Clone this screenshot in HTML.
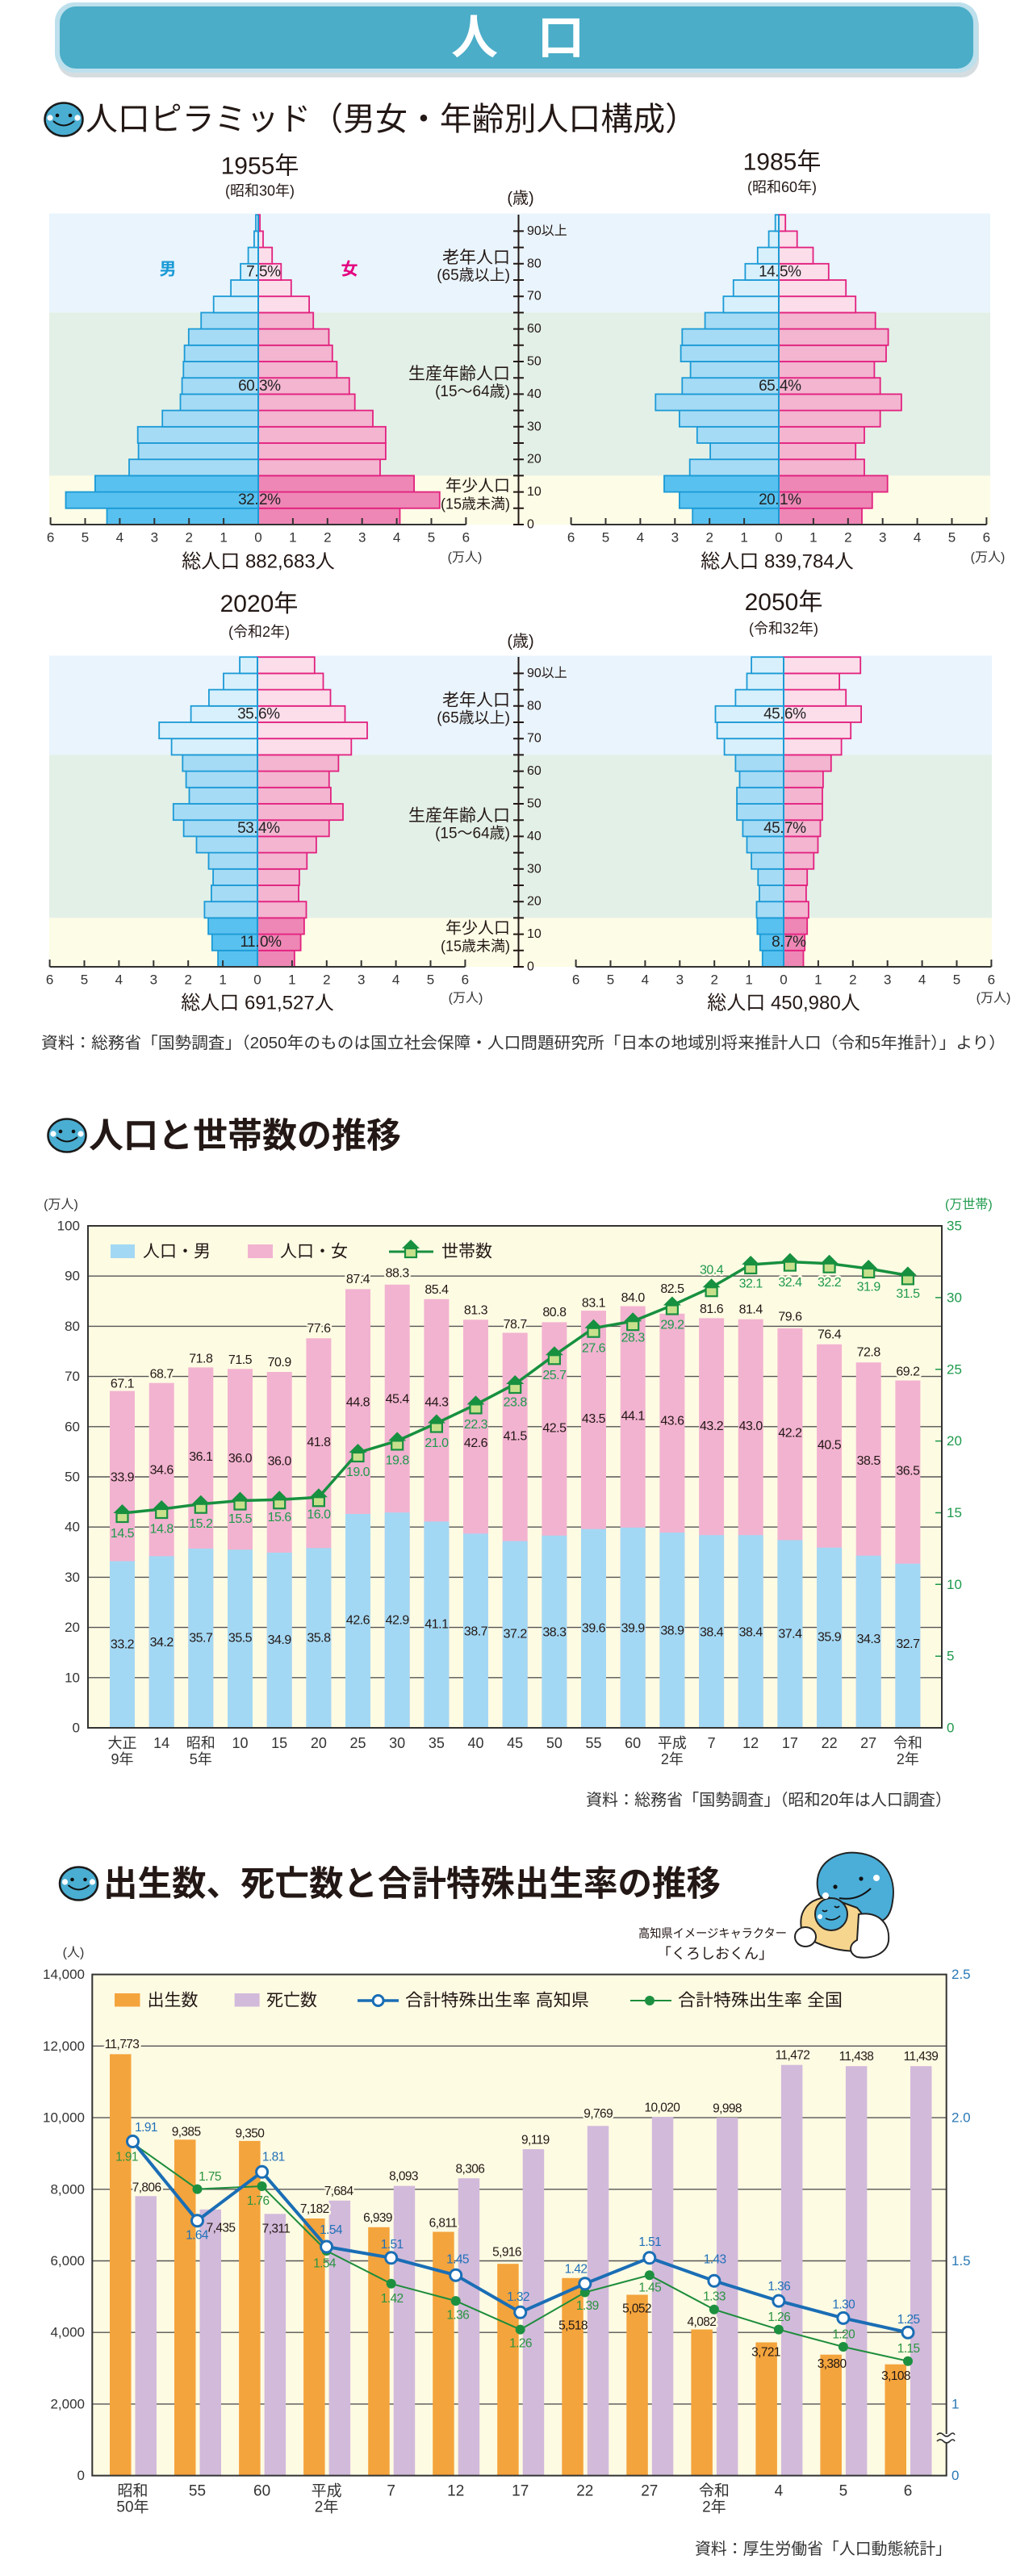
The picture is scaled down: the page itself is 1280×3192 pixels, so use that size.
<!DOCTYPE html>
<html lang="ja"><head><meta charset="utf-8"><title>人口</title>
<style>
html,body{margin:0;padding:0;background:#fff;}
svg{display:block;}
text{font-family:"Liberation Sans","Noto Sans CJK JP",sans-serif;dominant-baseline:central;fill:#231815;}
.mc{fill:#58c1ef;stroke:#1b9ad6;stroke-width:1.8}
.mw{fill:#a6dbf5;stroke:#1b9ad6;stroke-width:1.8}
.me{fill:#d8f0fb;stroke:#1b9ad6;stroke-width:1.8}
.fc{fill:#ee87b5;stroke:#e2217f;stroke-width:1.8}
.fw{fill:#f3b5d0;stroke:#e2217f;stroke-width:1.8}
.fe{fill:#fbdeea;stroke:#e2217f;stroke-width:1.8}
.ax{font-size:17px;fill:#333;text-anchor:middle}
.pc{font-size:19px;fill:#222;letter-spacing:-0.5px}
.yr{font-size:30px;text-anchor:middle;fill:#231815}
.ys{font-size:18px;text-anchor:middle;fill:#231815}
.tot{font-size:24px;text-anchor:middle}
.man{font-size:16px;text-anchor:middle;fill:#333}
.ag{font-size:16px;fill:#231815}
.gl{text-anchor:end;fill:#231815}
.yl{font-size:17px;fill:#333;text-anchor:end}
.n2{font-size:16px;letter-spacing:-0.5px;text-anchor:middle;fill:#231815}
.h2{font-size:16px;letter-spacing:-0.5px;text-anchor:middle;fill:#1e9a4c}
.halo{stroke:#fefbe3;stroke-width:5px;paint-order:stroke;stroke-linejoin:round}
.xl{font-size:18px;text-anchor:middle;fill:#333}
.n3{font-size:15.5px;letter-spacing:-0.6px;text-anchor:middle;fill:#231815}
.b3{font-size:15.5px;letter-spacing:-0.6px;text-anchor:middle;fill:#2070b8}
.g3{font-size:15.5px;letter-spacing:-0.6px;text-anchor:middle;fill:#2a9440}
.lg{font-size:21px;fill:#231815}
.src{font-size:20px;fill:#333}
</style></head>
<body>
<svg xmlns="http://www.w3.org/2000/svg" width="1280" height="3192" viewBox="0 0 1280 3192">
<defs>
<g id="hs"><path d="M-11 0 L0 -11 L11 0 Z" fill="#17903f"/><rect x="-7" y="0" width="14" height="11" fill="#c8e08c" stroke="#17903f" stroke-width="2.2"/></g>
<g id="face"><ellipse cx="0" cy="0" rx="23.5" ry="20.5" fill="#4aaed2" stroke="#1a1a1a" stroke-width="2.5"/><circle cx="-8" cy="-5" r="2.3" fill="#111"/><circle cx="8" cy="-5" r="2.3" fill="#111"/><path d="M-13 2 Q0 13 13 2" fill="none" stroke="#111" stroke-width="2"/><circle cx="-17" cy="-2" r="3.6" fill="#fff"/><circle cx="17" cy="-2" r="3.6" fill="#fff"/></g>
</defs>

<!-- Banner -->
<rect x="71" y="10" width="1142" height="86" rx="22" fill="#d6dde0"/>
<rect x="68" y="3" width="1144" height="87" rx="24" fill="#bde0ec"/>
<rect x="74" y="8" width="1132" height="77" rx="20" fill="#4badc8"/>
<text x="588" y="47" font-size="58" font-weight="bold" text-anchor="middle" style="fill:#fff">人</text>
<text x="695" y="47" font-size="58" font-weight="bold" text-anchor="middle" style="fill:#fff">口</text>

<!-- Section 1 title -->
<use href="#face" x="79" y="148"/>
<text x="106" y="148" font-size="40" textLength="758" lengthAdjust="spacingAndGlyphs">人口ピラミッド（男女・年齢別人口構成）</text>

<!-- Bands top pair -->
<rect x="61" y="264.5" width="1166" height="122.9" fill="#e9f4fc"/>
<rect x="61" y="387.4" width="1166" height="202" fill="#e3f0e7"/>
<rect x="61" y="589.4" width="1166" height="60.6" fill="#fdfce6"/>
<!-- Bands bottom pair -->
<rect x="61" y="812.5" width="1168" height="122.9" fill="#e9f4fc"/>
<rect x="61" y="935.4" width="1168" height="202" fill="#e3f0e7"/>
<rect x="61" y="1137.4" width="1168" height="60.6" fill="#fdfce6"/>

<!-- Pyramid 1955 -->
<g transform="translate(320,650)">
<rect class="mc" x="-187.5" y="-20.2" width="187.5" height="20.2"/>
<rect class="mc" x="-238.5" y="-40.4" width="238.5" height="20.2"/>
<rect class="mc" x="-202.1" y="-60.6" width="202.1" height="20.2"/>
<rect class="mw" x="-160" y="-80.8" width="160" height="20.2"/>
<rect class="mw" x="-148.4" y="-101" width="148.4" height="20.2"/>
<rect class="mw" x="-149.3" y="-121.2" width="149.3" height="20.2"/>
<rect class="mw" x="-118.8" y="-141.4" width="118.8" height="20.2"/>
<rect class="mw" x="-96.5" y="-161.6" width="96.5" height="20.2"/>
<rect class="mw" x="-94.4" y="-181.8" width="94.4" height="20.2"/>
<rect class="mw" x="-92.7" y="-202" width="92.7" height="20.2"/>
<rect class="mw" x="-91.4" y="-222.2" width="91.4" height="20.2"/>
<rect class="mw" x="-86.2" y="-242.4" width="86.2" height="20.2"/>
<rect class="mw" x="-70.8" y="-262.6" width="70.8" height="20.2"/>
<rect class="me" x="-55.3" y="-282.8" width="55.3" height="20.2"/>
<rect class="me" x="-33.9" y="-303" width="33.9" height="20.2"/>
<rect class="me" x="-21.9" y="-323.2" width="21.9" height="20.2"/>
<rect class="me" x="-12.4" y="-343.4" width="12.4" height="20.2"/>
<rect class="me" x="-5.1" y="-363.6" width="5.1" height="20.2"/>
<rect class="me" x="-3" y="-383.8" width="3" height="20.2"/>
<rect class="fc" x="0" y="-20.2" width="175.5" height="20.2"/>
<rect class="fc" x="0" y="-40.4" width="224.8" height="20.2"/>
<rect class="fc" x="0" y="-60.6" width="193.1" height="20.2"/>
<rect class="fw" x="0" y="-80.8" width="151" height="20.2"/>
<rect class="fw" x="0" y="-101" width="157.9" height="20.2"/>
<rect class="fw" x="0" y="-121.2" width="157.9" height="20.2"/>
<rect class="fw" x="0" y="-141.4" width="142" height="20.2"/>
<rect class="fw" x="0" y="-161.6" width="119.7" height="20.2"/>
<rect class="fw" x="0" y="-181.8" width="112.8" height="20.2"/>
<rect class="fw" x="0" y="-202" width="97.4" height="20.2"/>
<rect class="fw" x="0" y="-222.2" width="91.8" height="20.2"/>
<rect class="fw" x="0" y="-242.4" width="87.5" height="20.2"/>
<rect class="fw" x="0" y="-262.6" width="68.2" height="20.2"/>
<rect class="fe" x="0" y="-282.8" width="63.1" height="20.2"/>
<rect class="fe" x="0" y="-303" width="40.8" height="20.2"/>
<rect class="fe" x="0" y="-323.2" width="28.3" height="20.2"/>
<rect class="fe" x="0" y="-343.4" width="17.2" height="20.2"/>
<rect class="fe" x="0" y="-363.6" width="6" height="20.2"/>
<rect class="fe" x="0" y="-383.8" width="2.1" height="20.2"/>
<path d="M0 -384V0" stroke="#1b9ad6" stroke-width="2"/>
<path d="M-257.4 0H257.4M-257.4 0V-9M-214.5 0V-8M-171.6 0V-8M-128.7 0V-8M-85.8 0V-8M-42.9 0V-8M42.9 0V-8M85.8 0V-8M128.7 0V-8M171.6 0V-8M214.5 0V-8M257.4 0V-9" stroke="#333" stroke-width="2" fill="none"/>
<text class="ax" x="-257.4" y="16">6</text><text class="ax" x="-214.5" y="16">5</text><text class="ax" x="-171.6" y="16">4</text><text class="ax" x="-128.7" y="16">3</text><text class="ax" x="-85.8" y="16">2</text><text class="ax" x="-42.9" y="16">1</text><text class="ax" x="0" y="16">0</text><text class="ax" x="42.9" y="16">1</text><text class="ax" x="85.8" y="16">2</text><text class="ax" x="128.7" y="16">3</text><text class="ax" x="171.6" y="16">4</text><text class="ax" x="214.5" y="16">5</text><text class="ax" x="257.4" y="16">6</text>
<text class="pc" x="0" y="-30.3" text-anchor="end">32.</text><text class="pc" x="1" y="-30.3">2%</text>
<text class="pc" x="0" y="-171.7" text-anchor="end">60.</text><text class="pc" x="1" y="-171.7">3%</text>
<text class="pc" x="0" y="-313.1" text-anchor="end">7.</text><text class="pc" x="1" y="-313.1">5%</text>
<text class="yr" x="2" y="-444">1955年</text>
<text class="ys" x="2" y="-413.5">(昭和30年)</text>
<text class="tot" x="0" y="46">総人口 882,683人</text>
<text class="man" x="256" y="41">(万人)</text>
<text x="-112" y="-316" font-size="21" font-weight="bold" text-anchor="middle" style="fill:#1a9ad6">男</text>
<text x="113" y="-316" font-size="21" font-weight="bold" text-anchor="middle" style="fill:#e4007f">女</text>
</g>

<!-- Pyramid 1985 -->
<g transform="translate(965,650)">
<rect class="mc" x="-106.8" y="-20.2" width="106.8" height="20.2"/>
<rect class="mc" x="-123.1" y="-40.4" width="123.1" height="20.2"/>
<rect class="mc" x="-142" y="-60.6" width="142" height="20.2"/>
<rect class="mw" x="-110.3" y="-80.8" width="110.3" height="20.2"/>
<rect class="mw" x="-84.9" y="-101" width="84.9" height="20.2"/>
<rect class="mw" x="-101.2" y="-121.2" width="101.2" height="20.2"/>
<rect class="mw" x="-123.1" y="-141.4" width="123.1" height="20.2"/>
<rect class="mw" x="-152.7" y="-161.6" width="152.7" height="20.2"/>
<rect class="mw" x="-119.7" y="-181.8" width="119.7" height="20.2"/>
<rect class="mw" x="-109.4" y="-202" width="109.4" height="20.2"/>
<rect class="mw" x="-121.4" y="-222.2" width="121.4" height="20.2"/>
<rect class="mw" x="-119.7" y="-242.4" width="119.7" height="20.2"/>
<rect class="mw" x="-91.4" y="-262.6" width="91.4" height="20.2"/>
<rect class="me" x="-68.6" y="-282.8" width="68.6" height="20.2"/>
<rect class="me" x="-56.2" y="-303" width="56.2" height="20.2"/>
<rect class="me" x="-41.6" y="-323.2" width="41.6" height="20.2"/>
<rect class="me" x="-26.2" y="-343.4" width="26.2" height="20.2"/>
<rect class="me" x="-12.4" y="-363.6" width="12.4" height="20.2"/>
<rect class="me" x="-4.3" y="-383.8" width="4.3" height="20.2"/>
<rect class="fc" x="0" y="-20.2" width="103" height="20.2"/>
<rect class="fc" x="0" y="-40.4" width="115.8" height="20.2"/>
<rect class="fc" x="0" y="-60.6" width="134.7" height="20.2"/>
<rect class="fw" x="0" y="-80.8" width="106" height="20.2"/>
<rect class="fw" x="0" y="-101" width="95.2" height="20.2"/>
<rect class="fw" x="0" y="-121.2" width="106" height="20.2"/>
<rect class="fw" x="0" y="-141.4" width="125.7" height="20.2"/>
<rect class="fw" x="0" y="-161.6" width="151.9" height="20.2"/>
<rect class="fw" x="0" y="-181.8" width="125.7" height="20.2"/>
<rect class="fw" x="0" y="-202" width="118.4" height="20.2"/>
<rect class="fw" x="0" y="-222.2" width="133" height="20.2"/>
<rect class="fw" x="0" y="-242.4" width="135.6" height="20.2"/>
<rect class="fw" x="0" y="-262.6" width="119.7" height="20.2"/>
<rect class="fe" x="0" y="-282.8" width="95.2" height="20.2"/>
<rect class="fe" x="0" y="-303" width="83.2" height="20.2"/>
<rect class="fe" x="0" y="-323.2" width="61.8" height="20.2"/>
<rect class="fe" x="0" y="-343.4" width="42.5" height="20.2"/>
<rect class="fe" x="0" y="-363.6" width="22.7" height="20.2"/>
<rect class="fe" x="0" y="-383.8" width="8.2" height="20.2"/>
<path d="M0 -384V0" stroke="#1b9ad6" stroke-width="2"/>
<path d="M-257.4 0H257.4M-257.4 0V-9M-214.5 0V-8M-171.6 0V-8M-128.7 0V-8M-85.8 0V-8M-42.9 0V-8M42.9 0V-8M85.8 0V-8M128.7 0V-8M171.6 0V-8M214.5 0V-8M257.4 0V-9" stroke="#333" stroke-width="2" fill="none"/>
<text class="ax" x="-257.4" y="16">6</text><text class="ax" x="-214.5" y="16">5</text><text class="ax" x="-171.6" y="16">4</text><text class="ax" x="-128.7" y="16">3</text><text class="ax" x="-85.8" y="16">2</text><text class="ax" x="-42.9" y="16">1</text><text class="ax" x="0" y="16">0</text><text class="ax" x="42.9" y="16">1</text><text class="ax" x="85.8" y="16">2</text><text class="ax" x="128.7" y="16">3</text><text class="ax" x="171.6" y="16">4</text><text class="ax" x="214.5" y="16">5</text><text class="ax" x="257.4" y="16">6</text>
<text class="pc" x="0" y="-30.3" text-anchor="end">20.</text><text class="pc" x="1" y="-30.3">1%</text>
<text class="pc" x="0" y="-171.7" text-anchor="end">65.</text><text class="pc" x="1" y="-171.7">4%</text>
<text class="pc" x="0" y="-313.1" text-anchor="end">14.</text><text class="pc" x="1" y="-313.1">5%</text>
<text class="yr" x="4" y="-449">1985年</text>
<text class="ys" x="4" y="-418">(昭和60年)</text>
<text class="tot" x="-2" y="46">総人口 839,784人</text>
<text class="man" x="259" y="41">(万人)</text>
</g>

<!-- Age axis top -->
<text x="645" y="246" font-size="20" text-anchor="middle">(歳)</text>
<path d="M642.5 266V650M636 650H649M636 629.8H649M636 609.6H649M636 589.4H649M636 569.2H649M636 549H649M636 528.8H649M636 508.6H649M636 488.4H649M636 468.2H649M636 448H649M636 427.8H649M636 407.6H649M636 387.4H649M636 367.2H649M636 347H649M636 326.8H649M636 306.6H649M636 286.4H649" stroke="#231815" stroke-width="2" fill="none"/>
<text class="ag" x="653" y="650">0</text><text class="ag" x="653" y="609.6">10</text><text class="ag" x="653" y="569.2">20</text><text class="ag" x="653" y="528.8">30</text><text class="ag" x="653" y="488.4">40</text><text class="ag" x="653" y="448">50</text><text class="ag" x="653" y="407.6">60</text><text class="ag" x="653" y="367.2">70</text><text class="ag" x="653" y="326.8">80</text><text class="ag" x="653" y="286.4">90以上</text>
<text class="gl" x="632" y="319.4" font-size="21">老年人口</text>
<text class="gl" x="632" y="341.7" font-size="19">(65歳以上)</text>
<text class="gl" x="632" y="463.3" font-size="21">生産年齢人口</text>
<text class="gl" x="632" y="485.7" font-size="19">(15〜64歳)</text>
<text class="gl" x="632" y="602.7" font-size="20">年少人口</text>
<text class="gl" x="632" y="624.5" font-size="18">(15歳未満)</text>

<!-- Pyramid 2020 -->
<g transform="translate(319,1198)">
<rect class="mc" x="-48.9" y="-20.2" width="48.9" height="20.2"/>
<rect class="mc" x="-56.2" y="-40.4" width="56.2" height="20.2"/>
<rect class="mc" x="-60.9" y="-60.6" width="60.9" height="20.2"/>
<rect class="mw" x="-65.6" y="-80.8" width="65.6" height="20.2"/>
<rect class="mw" x="-57.1" y="-101" width="57.1" height="20.2"/>
<rect class="mw" x="-54.9" y="-121.2" width="54.9" height="20.2"/>
<rect class="mw" x="-60.5" y="-141.4" width="60.5" height="20.2"/>
<rect class="mw" x="-75.5" y="-161.6" width="75.5" height="20.2"/>
<rect class="mw" x="-91.4" y="-181.8" width="91.4" height="20.2"/>
<rect class="mw" x="-104.2" y="-202" width="104.2" height="20.2"/>
<rect class="mw" x="-84.5" y="-222.2" width="84.5" height="20.2"/>
<rect class="mw" x="-88.4" y="-242.4" width="88.4" height="20.2"/>
<rect class="mw" x="-92.7" y="-262.6" width="92.7" height="20.2"/>
<rect class="me" x="-106.4" y="-282.8" width="106.4" height="20.2"/>
<rect class="me" x="-121.8" y="-303" width="121.8" height="20.2"/>
<rect class="me" x="-82.4" y="-323.2" width="82.4" height="20.2"/>
<rect class="me" x="-60.1" y="-343.4" width="60.1" height="20.2"/>
<rect class="me" x="-42" y="-363.6" width="42" height="20.2"/>
<rect class="me" x="-21.9" y="-383.8" width="21.9" height="20.2"/>
<rect class="fc" x="0" y="-20.2" width="45.9" height="20.2"/>
<rect class="fc" x="0" y="-40.4" width="53.6" height="20.2"/>
<rect class="fc" x="0" y="-60.6" width="57.9" height="20.2"/>
<rect class="fw" x="0" y="-80.8" width="60.5" height="20.2"/>
<rect class="fw" x="0" y="-101" width="51.1" height="20.2"/>
<rect class="fw" x="0" y="-121.2" width="51.9" height="20.2"/>
<rect class="fw" x="0" y="-141.4" width="61.3" height="20.2"/>
<rect class="fw" x="0" y="-161.6" width="72.9" height="20.2"/>
<rect class="fw" x="0" y="-181.8" width="88.8" height="20.2"/>
<rect class="fw" x="0" y="-202" width="106" height="20.2"/>
<rect class="fw" x="0" y="-222.2" width="90.9" height="20.2"/>
<rect class="fw" x="0" y="-242.4" width="88.8" height="20.2"/>
<rect class="fw" x="0" y="-262.6" width="100.4" height="20.2"/>
<rect class="fe" x="0" y="-282.8" width="116.3" height="20.2"/>
<rect class="fe" x="0" y="-303" width="136" height="20.2"/>
<rect class="fe" x="0" y="-323.2" width="108.5" height="20.2"/>
<rect class="fe" x="0" y="-343.4" width="90.5" height="20.2"/>
<rect class="fe" x="0" y="-363.6" width="81.5" height="20.2"/>
<rect class="fe" x="0" y="-383.8" width="70.8" height="20.2"/>
<path d="M0 -384V0" stroke="#1b9ad6" stroke-width="2"/>
<path d="M-257.4 0H257.4M-257.4 0V-9M-214.5 0V-8M-171.6 0V-8M-128.7 0V-8M-85.8 0V-8M-42.9 0V-8M42.9 0V-8M85.8 0V-8M128.7 0V-8M171.6 0V-8M214.5 0V-8M257.4 0V-9" stroke="#333" stroke-width="2" fill="none"/>
<text class="ax" x="-257.4" y="16">6</text><text class="ax" x="-214.5" y="16">5</text><text class="ax" x="-171.6" y="16">4</text><text class="ax" x="-128.7" y="16">3</text><text class="ax" x="-85.8" y="16">2</text><text class="ax" x="-42.9" y="16">1</text><text class="ax" x="0" y="16">0</text><text class="ax" x="42.9" y="16">1</text><text class="ax" x="85.8" y="16">2</text><text class="ax" x="128.7" y="16">3</text><text class="ax" x="171.6" y="16">4</text><text class="ax" x="214.5" y="16">5</text><text class="ax" x="257.4" y="16">6</text>
<text class="pc" x="2" y="-30.3" text-anchor="end">11.</text><text class="pc" x="3" y="-30.3">0%</text>
<text class="pc" x="0" y="-171.7" text-anchor="end">53.</text><text class="pc" x="1" y="-171.7">4%</text>
<text class="pc" x="0" y="-313.1" text-anchor="end">35.</text><text class="pc" x="1" y="-313.1">6%</text>
<text class="yr" x="2" y="-449.5">2020年</text>
<text class="ys" x="2" y="-415">(令和2年)</text>
<text class="tot" x="0" y="45">総人口 691,527人</text>
<text class="man" x="258" y="39">(万人)</text>
</g>

<!-- Pyramid 2050 -->
<g transform="translate(971,1198)">
<rect class="mc" x="-26.2" y="-20.2" width="26.2" height="20.2"/>
<rect class="mc" x="-29.2" y="-40.4" width="29.2" height="20.2"/>
<rect class="mc" x="-32.6" y="-60.6" width="32.6" height="20.2"/>
<rect class="mw" x="-33.5" y="-80.8" width="33.5" height="20.2"/>
<rect class="mw" x="-30" y="-101" width="30" height="20.2"/>
<rect class="mw" x="-31.7" y="-121.2" width="31.7" height="20.2"/>
<rect class="mw" x="-39.9" y="-141.4" width="39.9" height="20.2"/>
<rect class="mw" x="-45.5" y="-161.6" width="45.5" height="20.2"/>
<rect class="mw" x="-50.6" y="-181.8" width="50.6" height="20.2"/>
<rect class="mw" x="-57.9" y="-202" width="57.9" height="20.2"/>
<rect class="mw" x="-57.9" y="-222.2" width="57.9" height="20.2"/>
<rect class="mw" x="-54.5" y="-242.4" width="54.5" height="20.2"/>
<rect class="mw" x="-59.6" y="-262.6" width="59.6" height="20.2"/>
<rect class="me" x="-73.4" y="-282.8" width="73.4" height="20.2"/>
<rect class="me" x="-82.4" y="-303" width="82.4" height="20.2"/>
<rect class="me" x="-84.5" y="-323.2" width="84.5" height="20.2"/>
<rect class="me" x="-59.6" y="-343.4" width="59.6" height="20.2"/>
<rect class="me" x="-45.5" y="-363.6" width="45.5" height="20.2"/>
<rect class="me" x="-39.9" y="-383.8" width="39.9" height="20.2"/>
<rect class="fc" x="0" y="-20.2" width="24.5" height="20.2"/>
<rect class="fc" x="0" y="-40.4" width="26.2" height="20.2"/>
<rect class="fc" x="0" y="-60.6" width="29.2" height="20.2"/>
<rect class="fw" x="0" y="-80.8" width="30.9" height="20.2"/>
<rect class="fw" x="0" y="-101" width="27.9" height="20.2"/>
<rect class="fw" x="0" y="-121.2" width="29.2" height="20.2"/>
<rect class="fw" x="0" y="-141.4" width="37.3" height="20.2"/>
<rect class="fw" x="0" y="-161.6" width="42.5" height="20.2"/>
<rect class="fw" x="0" y="-181.8" width="45.5" height="20.2"/>
<rect class="fw" x="0" y="-202" width="48" height="20.2"/>
<rect class="fw" x="0" y="-222.2" width="48" height="20.2"/>
<rect class="fw" x="0" y="-242.4" width="48.9" height="20.2"/>
<rect class="fw" x="0" y="-262.6" width="58.8" height="20.2"/>
<rect class="fe" x="0" y="-282.8" width="71.6" height="20.2"/>
<rect class="fe" x="0" y="-303" width="83.2" height="20.2"/>
<rect class="fe" x="0" y="-323.2" width="96.1" height="20.2"/>
<rect class="fe" x="0" y="-343.4" width="77.2" height="20.2"/>
<rect class="fe" x="0" y="-363.6" width="69.1" height="20.2"/>
<rect class="fe" x="0" y="-383.8" width="95.2" height="20.2"/>
<path d="M0 -384V0" stroke="#1b9ad6" stroke-width="2"/>
<path d="M-257.4 0H257.4M-257.4 0V-9M-214.5 0V-8M-171.6 0V-8M-128.7 0V-8M-85.8 0V-8M-42.9 0V-8M42.9 0V-8M85.8 0V-8M128.7 0V-8M171.6 0V-8M214.5 0V-8M257.4 0V-9" stroke="#333" stroke-width="2" fill="none"/>
<text class="ax" x="-257.4" y="16">6</text><text class="ax" x="-214.5" y="16">5</text><text class="ax" x="-171.6" y="16">4</text><text class="ax" x="-128.7" y="16">3</text><text class="ax" x="-85.8" y="16">2</text><text class="ax" x="-42.9" y="16">1</text><text class="ax" x="0" y="16">0</text><text class="ax" x="42.9" y="16">1</text><text class="ax" x="85.8" y="16">2</text><text class="ax" x="128.7" y="16">3</text><text class="ax" x="171.6" y="16">4</text><text class="ax" x="214.5" y="16">5</text><text class="ax" x="257.4" y="16">6</text>
<text class="pc" x="0" y="-30.3" text-anchor="end">8.</text><text class="pc" x="1" y="-30.3">7%</text>
<text class="pc" x="0" y="-171.7" text-anchor="end">45.</text><text class="pc" x="1" y="-171.7">7%</text>
<text class="pc" x="0" y="-313.1" text-anchor="end">45.</text><text class="pc" x="1" y="-313.1">6%</text>
<text class="yr" x="0" y="-451.5">2050年</text>
<text class="ys" x="0" y="-419">(令和32年)</text>
<text class="tot" x="0" y="45">総人口 450,980人</text>
<text class="man" x="260" y="39">(万人)</text>
</g>

<!-- Age axis bottom -->
<text x="645" y="795" font-size="20" text-anchor="middle">(歳)</text>
<path d="M642.5 814V1198M636 1198H649M636 1177.8H649M636 1157.6H649M636 1137.4H649M636 1117.2H649M636 1097H649M636 1076.8H649M636 1056.6H649M636 1036.4H649M636 1016.2H649M636 996H649M636 975.8H649M636 955.6H649M636 935.4H649M636 915.2H649M636 895H649M636 874.8H649M636 854.6H649M636 834.4H649" stroke="#231815" stroke-width="2" fill="none"/>
<text class="ag" x="653" y="1198">0</text><text class="ag" x="653" y="1157.6">10</text><text class="ag" x="653" y="1117.2">20</text><text class="ag" x="653" y="1076.8">30</text><text class="ag" x="653" y="1036.4">40</text><text class="ag" x="653" y="996">50</text><text class="ag" x="653" y="955.6">60</text><text class="ag" x="653" y="915.2">70</text><text class="ag" x="653" y="874.8">80</text><text class="ag" x="653" y="834.4">90以上</text>
<text class="gl" x="632" y="867.8" font-size="21">老年人口</text>
<text class="gl" x="632" y="890" font-size="19">(65歳以上)</text>
<text class="gl" x="632" y="1011" font-size="21">生産年齢人口</text>
<text class="gl" x="632" y="1033.2" font-size="19">(15〜64歳)</text>
<text class="gl" x="632" y="1150.5" font-size="20">年少人口</text>
<text class="gl" x="632" y="1172.4" font-size="18">(15歳未満)</text>

<text class="src" x="51" y="1293" textLength="1195" lengthAdjust="spacingAndGlyphs">資料：総務省「国勢調査」（2050年のものは国立社会保障・人口問題研究所「日本の地域別将来推計人口（令和5年推計）」より）</text>

<!-- ================= Chart 2 ================= -->
<use href="#face" x="83" y="1407"/>
<text x="110" y="1408" font-size="43" font-weight="bold" textLength="387" lengthAdjust="spacingAndGlyphs">人口と世帯数の推移</text>

<text x="75.5" y="1493" font-size="16" text-anchor="middle" style="fill:#333">(万人)</text>
<text x="1171" y="1493" font-size="16" style="fill:#1e9a4c">(万世帯)</text>

<rect x="109" y="1519" width="1058" height="622" fill="#fefbe3"/>
<path d="M109 2078.8H1167M109 2016.6H1167M109 1954.4H1167M109 1892.2H1167M109 1830H1167M109 1767.8H1167M109 1705.6H1167M109 1643.4H1167M109 1581.2H1167" stroke="#555" stroke-width="1.4"/>

<text class="yl" x="99" y="2141">0</text><text class="yl" x="99" y="2078.8">10</text><text class="yl" x="99" y="2016.6">20</text><text class="yl" x="99" y="1954.4">30</text><text class="yl" x="99" y="1892.2">40</text><text class="yl" x="99" y="1830">50</text><text class="yl" x="99" y="1767.8">60</text><text class="yl" x="99" y="1705.6">70</text><text class="yl" x="99" y="1643.4">80</text><text class="yl" x="99" y="1581.2">90</text><text class="yl" x="99" y="1519">100</text>

<g style="font-size:17px">
<text x="1173" y="2141" style="fill:#1e9a4c">0</text><text x="1173" y="2052.2" style="fill:#1e9a4c">5</text><text x="1173" y="1963.3" style="fill:#1e9a4c">10</text><text x="1173" y="1874.5" style="fill:#1e9a4c">15</text><text x="1173" y="1785.6" style="fill:#1e9a4c">20</text><text x="1173" y="1696.8" style="fill:#1e9a4c">25</text><text x="1173" y="1607.9" style="fill:#1e9a4c">30</text><text x="1173" y="1519" style="fill:#1e9a4c">35</text>
</g>

<!-- pink (total) bars -->
<g fill="#f2b3d0">
<rect x="136" y="1723.6" width="31" height="417.4"/>
<rect x="184.7" y="1713.7" width="31" height="427.3"/>
<rect x="233.3" y="1694.4" width="31" height="446.6"/>
<rect x="282" y="1696.3" width="31" height="444.7"/>
<rect x="330.7" y="1700" width="31" height="441"/>
<rect x="379.4" y="1658.3" width="31" height="482.7"/>
<rect x="428" y="1597.4" width="31" height="543.6"/>
<rect x="476.7" y="1591.8" width="31" height="549.2"/>
<rect x="525.4" y="1609.8" width="31" height="531.2"/>
<rect x="574" y="1635.3" width="31" height="505.7"/>
<rect x="622.7" y="1651.5" width="31" height="489.5"/>
<rect x="671.4" y="1638.4" width="31" height="502.6"/>
<rect x="720" y="1624.1" width="31" height="516.9"/>
<rect x="768.7" y="1618.5" width="31" height="522.5"/>
<rect x="817.4" y="1627.8" width="31" height="513.2"/>
<rect x="866.1" y="1633.4" width="31" height="507.6"/>
<rect x="914.7" y="1634.7" width="31" height="506.3"/>
<rect x="963.4" y="1645.9" width="31" height="495.1"/>
<rect x="1012.1" y="1665.8" width="31" height="475.2"/>
<rect x="1060.7" y="1688.2" width="31" height="452.8"/>
<rect x="1109.4" y="1710.6" width="31" height="430.4"/>
</g>
<!-- blue (male) bars -->
<g fill="#a3d8f4">
<rect x="136" y="1934.5" width="31" height="206.5"/>
<rect x="184.7" y="1928.3" width="31" height="212.7"/>
<rect x="233.3" y="1918.9" width="31" height="222.1"/>
<rect x="282" y="1920.2" width="31" height="220.8"/>
<rect x="330.7" y="1923.9" width="31" height="217.1"/>
<rect x="379.4" y="1918.3" width="31" height="222.7"/>
<rect x="428" y="1876" width="31" height="265"/>
<rect x="476.7" y="1874.2" width="31" height="266.8"/>
<rect x="525.4" y="1885.4" width="31" height="255.6"/>
<rect x="574" y="1900.3" width="31" height="240.7"/>
<rect x="622.7" y="1909.6" width="31" height="231.4"/>
<rect x="671.4" y="1902.8" width="31" height="238.2"/>
<rect x="720" y="1894.7" width="31" height="246.3"/>
<rect x="768.7" y="1892.8" width="31" height="248.2"/>
<rect x="817.4" y="1899" width="31" height="242"/>
<rect x="866.1" y="1902.2" width="31" height="238.8"/>
<rect x="914.7" y="1902.2" width="31" height="238.8"/>
<rect x="963.4" y="1908.4" width="31" height="232.6"/>
<rect x="1012.1" y="1917.7" width="31" height="223.3"/>
<rect x="1060.7" y="1927.7" width="31" height="213.3"/>
<rect x="1109.4" y="1937.6" width="31" height="203.4"/>
</g>

<!-- frame -->
<rect x="109" y="1519" width="1058" height="622" fill="none" stroke="#333" stroke-width="2"/>
<path d="M1159 2052.2H1166M1159 1963.3H1166M1159 1874.5H1166M1159 1785.6H1166M1159 1696.8H1166M1159 1607.9H1166" stroke="#1e9a4c" stroke-width="1.5"/>

<!-- legend -->
<rect x="137" y="1542" width="30" height="17" fill="#a3d8f4"/>
<text class="lg" x="177" y="1551">人口・男</text>
<rect x="307" y="1542" width="31" height="17" fill="#f2b3d0"/>
<text class="lg" x="347" y="1551">人口・女</text>
<path d="M482 1551H537" stroke="#17903f" stroke-width="3"/>
<use href="#hs" x="509" y="1547"/>
<text class="lg" x="547" y="1551">世帯数</text>

<!-- total labels -->
<text class="n2 halo" x="151.5" y="1715">67.1</text>
<text class="n2 halo" x="200.2" y="1703">68.7</text>
<text class="n2 halo" x="248.8" y="1684">71.8</text>
<text class="n2 halo" x="297.5" y="1685.6">71.5</text>
<text class="n2 halo" x="346.2" y="1688.6">70.9</text>
<text class="n2 halo" x="394.9" y="1646.5">77.6</text>
<text class="n2 halo" x="443.5" y="1585.5">87.4</text>
<text class="n2 halo" x="492.2" y="1578">88.3</text>
<text class="n2 halo" x="540.9" y="1598.5">85.4</text>
<text class="n2 halo" x="589.5" y="1624">81.3</text>
<text class="n2 halo" x="638.2" y="1641.5">78.7</text>
<text class="n2 halo" x="686.9" y="1626.7">80.8</text>
<text class="n2 halo" x="735.5" y="1615">83.1</text>
<text class="n2 halo" x="784.2" y="1608.6">84.0</text>
<text class="n2 halo" x="832.9" y="1597.7">82.5</text>
<text class="n2 halo" x="881.6" y="1622.5">81.6</text>
<text class="n2 halo" x="930.2" y="1623">81.4</text>
<text class="n2 halo" x="978.9" y="1632">79.6</text>
<text class="n2 halo" x="1027.6" y="1654">76.4</text>
<text class="n2 halo" x="1076.2" y="1676">72.8</text>
<text class="n2 halo" x="1124.9" y="1700">69.2</text>
<!-- female labels -->
<text class="n2" x="151.5" y="1831">33.9</text>
<text class="n2" x="200.2" y="1822">34.6</text>
<text class="n2" x="248.8" y="1805.6">36.1</text>
<text class="n2" x="297.5" y="1807.7">36.0</text>
<text class="n2" x="346.2" y="1811">36.0</text>
<text class="n2" x="394.9" y="1787.5">41.8</text>
<text class="n2" x="443.5" y="1738">44.8</text>
<text class="n2" x="492.2" y="1734">45.4</text>
<text class="n2" x="540.9" y="1738">44.3</text>
<text class="n2" x="589.5" y="1788.7">42.6</text>
<text class="n2" x="638.2" y="1780">41.5</text>
<text class="n2" x="686.9" y="1770">42.5</text>
<text class="n2" x="735.5" y="1758.5">43.5</text>
<text class="n2" x="784.2" y="1755">44.1</text>
<text class="n2" x="832.9" y="1761">43.6</text>
<text class="n2" x="881.6" y="1767.7">43.2</text>
<text class="n2" x="930.2" y="1767.7">43.0</text>
<text class="n2" x="978.9" y="1776">42.2</text>
<text class="n2" x="1027.6" y="1791">40.5</text>
<text class="n2" x="1076.2" y="1810.6">38.5</text>
<text class="n2" x="1124.9" y="1823">36.5</text>
<!-- male labels -->
<text class="n2" x="151.5" y="2038">33.2</text>
<text class="n2" x="200.2" y="2035.5">34.2</text>
<text class="n2" x="248.8" y="2030">35.7</text>
<text class="n2" x="297.5" y="2030">35.5</text>
<text class="n2" x="346.2" y="2032.6">34.9</text>
<text class="n2" x="394.9" y="2030">35.8</text>
<text class="n2" x="443.5" y="2008">42.6</text>
<text class="n2" x="492.2" y="2008">42.9</text>
<text class="n2" x="540.9" y="2013">41.1</text>
<text class="n2" x="589.5" y="2022">38.7</text>
<text class="n2" x="638.2" y="2025">37.2</text>
<text class="n2" x="686.9" y="2023">38.3</text>
<text class="n2" x="735.5" y="2018">39.6</text>
<text class="n2" x="784.2" y="2018">39.9</text>
<text class="n2" x="832.9" y="2021">38.9</text>
<text class="n2" x="881.6" y="2023">38.4</text>
<text class="n2" x="930.2" y="2023">38.4</text>
<text class="n2" x="978.9" y="2025">37.4</text>
<text class="n2" x="1027.6" y="2029">35.9</text>
<text class="n2" x="1076.2" y="2031.4">34.3</text>
<text class="n2" x="1124.9" y="2037.6">32.7</text>

<!-- household line -->
<polyline points="151.5,1875 200.2,1870 248.8,1863.7 297.5,1859.5 346.2,1858.2 394.9,1855.3 443.5,1800 492.2,1785.4 540.9,1763.5 589.5,1740.4 638.2,1715 686.9,1679.3 735.5,1645.7 784.2,1637.2 832.9,1617.5 881.6,1595.2 930.2,1567 978.9,1563.6 1027.6,1565.7 1076.2,1572 1124.9,1580.4" fill="none" stroke="#17903f" stroke-width="3.5" stroke-linejoin="round"/>
<use href="#hs" x="151.5" y="1875"/><use href="#hs" x="200.2" y="1870"/><use href="#hs" x="248.8" y="1863.7"/><use href="#hs" x="297.5" y="1859.5"/><use href="#hs" x="346.2" y="1858.2"/><use href="#hs" x="394.9" y="1855.3"/><use href="#hs" x="443.5" y="1800"/><use href="#hs" x="492.2" y="1785.4"/><use href="#hs" x="540.9" y="1763.5"/><use href="#hs" x="589.5" y="1740.4"/><use href="#hs" x="638.2" y="1715"/><use href="#hs" x="686.9" y="1679.3"/><use href="#hs" x="735.5" y="1645.7"/><use href="#hs" x="784.2" y="1637.2"/><use href="#hs" x="832.9" y="1617.5"/><use href="#hs" x="881.6" y="1595.2"/><use href="#hs" x="930.2" y="1567"/><use href="#hs" x="978.9" y="1563.6"/><use href="#hs" x="1027.6" y="1565.7"/><use href="#hs" x="1076.2" y="1572"/><use href="#hs" x="1124.9" y="1580.4"/>
<!-- household labels -->
<text class="h2" x="151.5" y="1900.3">14.5</text>
<text class="h2" x="200.2" y="1895">14.8</text>
<text class="h2" x="248.8" y="1888.5">15.2</text>
<text class="h2" x="297.5" y="1882.6">15.5</text>
<text class="h2" x="346.2" y="1880.5">15.6</text>
<text class="h2" x="394.9" y="1877">16.0</text>
<text class="h2" x="443.5" y="1824.5">19.0</text>
<text class="h2" x="492.2" y="1809.8">19.8</text>
<text class="h2" x="540.9" y="1788.7">21.0</text>
<text class="h2" x="589.5" y="1765.6">22.3</text>
<text class="h2" x="638.2" y="1738">23.8</text>
<text class="h2" x="686.9" y="1704.6">25.7</text>
<text class="h2" x="735.5" y="1671">27.6</text>
<text class="h2" x="784.2" y="1658">28.3</text>
<text class="h2" x="832.9" y="1642">29.2</text>
<text class="h2 halo" x="881.6" y="1574">30.4</text>
<text class="h2 halo" x="930.2" y="1591">32.1</text>
<text class="h2 halo" x="978.9" y="1589.7">32.4</text>
<text class="h2 halo" x="1027.6" y="1589.7">32.2</text>
<text class="h2 halo" x="1076.2" y="1595">31.9</text>
<text class="h2 halo" x="1124.9" y="1603.6">31.5</text>

<!-- x labels chart 2 -->
<text class="xl" x="151.5" y="2160">大正</text><text class="xl" x="151.5" y="2180">9年</text>
<text class="xl" x="200.2" y="2160">14</text>
<text class="xl" x="248.8" y="2160">昭和</text><text class="xl" x="248.8" y="2180">5年</text>
<text class="xl" x="297.5" y="2160">10</text>
<text class="xl" x="346.2" y="2160">15</text>
<text class="xl" x="394.9" y="2160">20</text>
<text class="xl" x="443.5" y="2160">25</text>
<text class="xl" x="492.2" y="2160">30</text>
<text class="xl" x="540.9" y="2160">35</text>
<text class="xl" x="589.5" y="2160">40</text>
<text class="xl" x="638.2" y="2160">45</text>
<text class="xl" x="686.9" y="2160">50</text>
<text class="xl" x="735.5" y="2160">55</text>
<text class="xl" x="784.2" y="2160">60</text>
<text class="xl" x="832.9" y="2160">平成</text><text class="xl" x="832.9" y="2180">2年</text>
<text class="xl" x="881.6" y="2160">7</text>
<text class="xl" x="930.2" y="2160">12</text>
<text class="xl" x="978.9" y="2160">17</text>
<text class="xl" x="1027.6" y="2160">22</text>
<text class="xl" x="1076.2" y="2160">27</text>
<text class="xl" x="1124.9" y="2160">令和</text><text class="xl" x="1124.9" y="2180">2年</text>

<text class="src" x="1179" y="2231" text-anchor="end" textLength="453" lengthAdjust="spacingAndGlyphs">資料：総務省「国勢調査」（昭和20年は人口調査）</text>

<!-- ================= Chart 3 ================= -->
<use href="#face" x="97.5" y="2334"/>
<text x="128" y="2335" font-size="43" font-weight="bold" textLength="765" lengthAdjust="spacingAndGlyphs">出生数、死亡数と合計特殊出生率の推移</text>

<!-- character -->
<g stroke="#222" stroke-width="2" stroke-linejoin="round">
<path d="M1015 2348 C1004 2312 1034 2293 1062 2296 C1096 2299 1111 2326 1106 2356 C1104 2372 1098 2379 1090 2381 L1040 2376 Z" fill="#4aaed8"/>
<path d="M993 2390 C989 2366 1004 2352 1026 2351 L1062 2364 C1077 2380 1079 2401 1071 2416 C1050 2421 1019 2413 1000 2401 Z" fill="#f6d58e"/>
<circle cx="1030" cy="2372" r="20" fill="#4aaed8"/>
<ellipse cx="998" cy="2400" rx="13" ry="12" fill="#fff"/>
<path d="M1064 2372 C1090 2368 1103 2385 1101 2405 C1099 2421 1080 2428 1062 2425 C1051 2420 1052 2409 1062 2404 Z" fill="#fff"/>
</g>
<circle cx="1035" cy="2338" r="2.6" fill="#111"/><circle cx="1067" cy="2328" r="2.6" fill="#111"/>
<path d="M1040 2352 Q1062 2356 1079 2340" fill="none" stroke="#111" stroke-width="2"/>
<circle cx="1086" cy="2327" r="4" fill="#fff"/><circle cx="1023" cy="2349" r="4" fill="#fff"/>
<path d="M1019 2367 q3 3 6 0 M1034 2362 q3 3 6 0 M1023 2377 q9 5 18 -3" fill="none" stroke="#111" stroke-width="1.6"/>
<circle cx="1016" cy="2375" r="3" fill="#fff"/>
<text x="883" y="2396" font-size="15" text-anchor="middle" textLength="184" lengthAdjust="spacingAndGlyphs">高知県イメージキャラクター</text>
<text x="886" y="2421" font-size="18" text-anchor="middle">「くろしおくん」</text>

<text x="91" y="2420" font-size="16" text-anchor="middle" style="fill:#333">(人)</text>

<rect x="114.3" y="2446.6" width="1058.4" height="621" fill="#fefbe3"/>
<path d="M114.3 2978.9H1172.7M114.3 2890.2H1172.7M114.3 2801.5H1172.7M114.3 2712.8H1172.7M114.3 2624.1H1172.7M114.3 2535.3H1172.7" stroke="#555" stroke-width="1.4"/>

<g style="font-size:17px">
<text class="yl" x="105" y="3067.6">0</text><text class="yl" x="105" y="2978.9">2,000</text><text class="yl" x="105" y="2890.2">4,000</text><text class="yl" x="105" y="2801.5">6,000</text><text class="yl" x="105" y="2712.8">8,000</text><text class="yl" x="105" y="2624.1">10,000</text><text class="yl" x="105" y="2535.3">12,000</text><text class="yl" x="105" y="2446.6">14,000</text>
<text x="1179" y="2446.6" style="fill:#2a78b5">2.5</text><text x="1179" y="2623.8" style="fill:#2a78b5">2.0</text><text x="1179" y="2801.4" style="fill:#2a78b5">1.5</text><text x="1179" y="2979" style="fill:#2a78b5">1</text><text x="1179" y="3067.6" style="fill:#2a78b5">0</text>
</g>

<!-- births -->
<g fill="#f4a43c">
<rect x="136" y="2545.4" width="26.5" height="522.2"/>
<rect x="216" y="2651.3" width="26.5" height="416.3"/>
<rect x="296.1" y="2652.9" width="26.5" height="414.7"/>
<rect x="376.1" y="2749" width="26.5" height="318.6"/>
<rect x="456.2" y="2759.8" width="26.5" height="307.8"/>
<rect x="536.2" y="2765.5" width="26.5" height="302.1"/>
<rect x="616.2" y="2805.2" width="26.5" height="262.4"/>
<rect x="696.3" y="2822.8" width="26.5" height="244.8"/>
<rect x="776.3" y="2843.5" width="26.5" height="224.1"/>
<rect x="856.4" y="2886.5" width="26.5" height="181.1"/>
<rect x="936.4" y="2902.5" width="26.5" height="165.1"/>
<rect x="1016.4" y="2917.7" width="26.5" height="149.9"/>
<rect x="1096.5" y="2929.7" width="26.5" height="137.9"/>
</g>
<!-- deaths -->
<g fill="#d2badb">
<rect x="167.5" y="2721.3" width="26.5" height="346.3"/>
<rect x="247.5" y="2737.8" width="26.5" height="329.8"/>
<rect x="327.6" y="2743.3" width="26.5" height="324.3"/>
<rect x="407.6" y="2726.8" width="26.5" height="340.8"/>
<rect x="487.7" y="2708.6" width="26.5" height="359"/>
<rect x="567.7" y="2699.2" width="26.5" height="368.4"/>
<rect x="647.7" y="2663.1" width="26.5" height="404.5"/>
<rect x="727.8" y="2634.3" width="26.5" height="433.3"/>
<rect x="807.8" y="2623.1" width="26.5" height="444.5"/>
<rect x="887.9" y="2624.1" width="26.5" height="443.5"/>
<rect x="967.9" y="2558.7" width="26.5" height="508.9"/>
<rect x="1047.9" y="2560.2" width="26.5" height="507.4"/>
<rect x="1128" y="2560.2" width="26.5" height="507.4"/>
</g>

<rect x="114.3" y="2446.6" width="1058.4" height="621" fill="none" stroke="#333" stroke-width="2"/>
<!-- axis break -->
<rect x="1166" y="3016" width="14" height="10" fill="#fff"/>
<path d="M1161 3017 q4 -4 8 0 t8 0 t6 0 M1161 3025 q4 -4 8 0 t8 0 t6 0" fill="none" stroke="#333" stroke-width="1.6"/>

<!-- legend -->
<rect x="142" y="2470" width="31.5" height="16.5" fill="#f4a43c"/>
<text class="lg" x="182.5" y="2479">出生数</text>
<rect x="290.6" y="2470" width="31" height="16.5" fill="#d2badb"/>
<text class="lg" x="330" y="2479">死亡数</text>
<path d="M443 2479H494" stroke="#1a6eb5" stroke-width="3.5"/>
<circle cx="468.6" cy="2479" r="6.5" fill="#fff" stroke="#1a6eb5" stroke-width="3"/>
<text class="lg" x="502" y="2479" textLength="228" lengthAdjust="spacingAndGlyphs">合計特殊出生率 高知県</text>
<path d="M781 2479H832" stroke="#1d8d3b" stroke-width="2"/>
<circle cx="805" cy="2479" r="6" fill="#1d9040"/>
<text class="lg" x="840" y="2479" textLength="204" lengthAdjust="spacingAndGlyphs">合計特殊出生率 全国</text>

<!-- national line -->
<polyline points="164.5,2655.8 244.5,2712.6 324.6,2709 404.6,2789 484.7,2829.8 564.7,2851.1 644.7,2886.6 724.8,2840.5 804.8,2819.2 884.9,2861.8 964.9,2886.6 1044.9,2908 1125,2925.7" fill="none" stroke="#1d8d3b" stroke-width="2"/>
<g fill="#1d9040">
<circle cx="164.5" cy="2655.8" r="6"/><circle cx="244.5" cy="2712.6" r="6"/><circle cx="324.6" cy="2709" r="6"/><circle cx="404.6" cy="2789" r="6"/><circle cx="484.7" cy="2829.8" r="6"/><circle cx="564.7" cy="2851.1" r="6"/><circle cx="644.7" cy="2886.6" r="6"/><circle cx="724.8" cy="2840.5" r="6"/><circle cx="804.8" cy="2819.2" r="6"/><circle cx="884.9" cy="2861.8" r="6"/><circle cx="964.9" cy="2886.6" r="6"/><circle cx="1044.9" cy="2908" r="6"/><circle cx="1125" cy="2925.7" r="6"/>
</g>
<!-- Kochi line -->
<polyline points="164.5,2653.5 244.5,2751.7 324.6,2691.3 404.6,2784 484.7,2797.8 564.7,2819.2 644.7,2865.3 724.8,2829.8 804.8,2797.8 884.9,2826.3 964.9,2851.1 1044.9,2872.4 1125,2890.2" fill="none" stroke="#1a6eb5" stroke-width="4" stroke-linejoin="round"/>
<g fill="#fff" stroke="#1a6eb5" stroke-width="3">
<circle cx="164.5" cy="2653.5" r="7"/><circle cx="244.5" cy="2751.7" r="7"/><circle cx="324.6" cy="2691.3" r="7"/><circle cx="404.6" cy="2784" r="7"/><circle cx="484.7" cy="2797.8" r="7"/><circle cx="564.7" cy="2819.2" r="7"/><circle cx="644.7" cy="2865.3" r="7"/><circle cx="724.8" cy="2829.8" r="7"/><circle cx="804.8" cy="2797.8" r="7"/><circle cx="884.9" cy="2826.3" r="7"/><circle cx="964.9" cy="2851.1" r="7"/><circle cx="1044.9" cy="2872.4" r="7"/><circle cx="1125" cy="2890.2" r="7"/>
</g>

<!-- births labels -->
<text class="n3 halo" x="151" y="2533.5">11,773</text>
<text class="n3 halo" x="230.6" y="2641.8">9,385</text>
<text class="n3 halo" x="309.4" y="2643.8">9,350</text>
<text class="n3 halo" x="389.8" y="2737.7">7,182</text>
<text class="n3 halo" x="468" y="2748.7">6,939</text>
<text class="n3 halo" x="549" y="2754.9">6,811</text>
<text class="n3 halo" x="628" y="2790.8">5,916</text>
<text class="n3" x="710" y="2881.8">5,518</text>
<text class="n3" x="789" y="2861">5,052</text>
<text class="n3 halo" x="869.4" y="2877.3">4,082</text>
<text class="n3" x="949" y="2915">3,721</text>
<text class="n3" x="1030.6" y="2929.6">3,380</text>
<text class="n3" x="1110" y="2944.6">3,108</text>
<!-- deaths labels -->
<text class="n3 halo" x="181.6" y="2711.2">7,806</text>
<text class="n3" x="273.5" y="2761">7,435</text>
<text class="n3" x="342" y="2762">7,311</text>
<text class="n3 halo" x="419.6" y="2715.3">7,684</text>
<text class="n3 halo" x="500" y="2697">8,093</text>
<text class="n3 halo" x="582.4" y="2688">8,306</text>
<text class="n3 halo" x="663.3" y="2652">9,119</text>
<text class="n3 halo" x="741.2" y="2619.3">9,769</text>
<text class="n3 halo" x="820.4" y="2612">10,020</text>
<text class="n3 halo" x="901" y="2613.2">9,998</text>
<text class="n3 halo" x="982" y="2547">11,472</text>
<text class="n3 halo" x="1061" y="2548.6">11,438</text>
<text class="n3 halo" x="1141" y="2548.6">11,439</text>
<!-- Kochi labels -->
<text class="b3" x="181" y="2636.5">1.91</text>
<text class="b3" x="244" y="2770">1.64</text>
<text class="b3" x="338.8" y="2672.8">1.81</text>
<text class="b3" x="410" y="2763.4">1.54</text>
<text class="b3" x="485.7" y="2781.4">1.51</text>
<text class="b3" x="567" y="2799.8">1.45</text>
<text class="b3" x="642" y="2846.7">1.32</text>
<text class="b3" x="713.5" y="2812">1.42</text>
<text class="b3" x="805.3" y="2778.5">1.51</text>
<text class="b3" x="885.7" y="2799.8">1.43</text>
<text class="b3" x="965.3" y="2833.6">1.36</text>
<text class="b3" x="1045.3" y="2856">1.30</text>
<text class="b3" x="1125.7" y="2874.4">1.25</text>
<!-- national labels -->
<text class="g3" x="157" y="2673">1.91</text>
<text class="g3" x="260" y="2697.7">1.75</text>
<text class="g3" x="319.6" y="2727.5">1.76</text>
<text class="g3" x="402" y="2805">1.54</text>
<text class="g3" x="485.7" y="2848.7">1.42</text>
<text class="g3" x="567.3" y="2869">1.36</text>
<text class="g3" x="645" y="2903.8">1.26</text>
<text class="g3" x="727.8" y="2857.3">1.39</text>
<text class="g3" x="805.3" y="2834.9">1.45</text>
<text class="g3" x="885" y="2846">1.33</text>
<text class="g3" x="965.3" y="2871.6">1.26</text>
<text class="g3" x="1045.3" y="2892.8">1.20</text>
<text class="g3" x="1125.7" y="2910.4">1.15</text>

<!-- x labels chart 3 -->
<text class="xl" x="164.5" y="3087" style="font-size:19px">昭和</text><text class="xl" x="164.5" y="3107" style="font-size:19px">50年</text>
<text class="xl" x="244.5" y="3087" style="font-size:19px">55</text>
<text class="xl" x="324.6" y="3087" style="font-size:19px">60</text>
<text class="xl" x="404.6" y="3087" style="font-size:19px">平成</text><text class="xl" x="404.6" y="3107" style="font-size:19px">2年</text>
<text class="xl" x="484.7" y="3087" style="font-size:19px">7</text>
<text class="xl" x="564.7" y="3087" style="font-size:19px">12</text>
<text class="xl" x="644.7" y="3087" style="font-size:19px">17</text>
<text class="xl" x="724.8" y="3087" style="font-size:19px">22</text>
<text class="xl" x="804.8" y="3087" style="font-size:19px">27</text>
<text class="xl" x="884.9" y="3087" style="font-size:19px">令和</text><text class="xl" x="884.9" y="3107" style="font-size:19px">2年</text>
<text class="xl" x="964.9" y="3087" style="font-size:19px">4</text>
<text class="xl" x="1044.9" y="3087" style="font-size:19px">5</text>
<text class="xl" x="1125" y="3087" style="font-size:19px">6</text>

<text class="src" x="1179" y="3159" text-anchor="end" textLength="318" lengthAdjust="spacingAndGlyphs">資料：厚生労働省「人口動態統計」</text>
</svg>
</body></html>
